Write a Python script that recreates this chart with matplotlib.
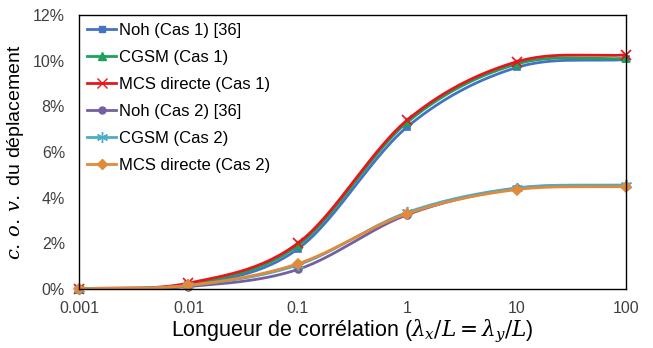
import numpy as np
import matplotlib
matplotlib.use('Agg')
import matplotlib.pyplot as plt
from matplotlib.ticker import FuncFormatter

plt.rcParams['font.family'] = ['Liberation Sans', 'DejaVu Sans']
plt.rcParams['mathtext.fontset'] = 'dejavuserif'

# data
lengths = [0.001, 0.01, 0.1, 1, 10, 100]
noh_1 = [0.0, 0.15, 1.75, 7.1, 9.7, 10.05]
cgsm_1 = [0.0, 0.2, 1.9, 7.3, 9.85, 10.1]
mcs_1 = [0.0, 0.25, 2.0, 7.4, 9.95, 10.25]
noh_2 = [0.0, 0.1, 0.85, 3.25, 4.4, 4.5]
cgsm_2 = [0.0, 0.15, 1.05, 3.35, 4.42, 4.55]
mcs_2 = [0.0, 0.15, 1.1, 3.3, 4.35, 4.48]

series = [
    ('Noh (Cas 1) [36]', noh_1, '#4472c4', 's', 5),
    ('CGSM (Cas 1)', cgsm_1, '#1ba35a', '^', 6),
    ('MCS directe (Cas 1)', mcs_1, '#e8151b', 'x', 7),
    ('Noh (Cas 2) [36]', noh_2, '#7460a0', 'o', 5),
    ('CGSM (Cas 2)', cgsm_2, '#4bacc6', (6, 2, 0), 8),
    ('MCS directe (Cas 2)', mcs_2, '#e08a3a', 'D', 5),
]


def smooth(xs, ys, n=30):
    # Catmull-Rom through the points in log-x space (like Excel smoothed lines)
    lx = np.log10(xs)
    y = np.array(ys, dtype=float)
    px = np.concatenate([[2 * lx[0] - lx[1]], lx, [2 * lx[-1] - lx[-2]]])
    py = np.concatenate([[2 * y[0] - y[1]], y, [2 * y[-1] - y[-2]]])
    ox, oy = [], []
    for i in range(1, len(px) - 2):
        t = np.linspace(0, 1, n)
        for p, out in ((px, ox), (py, oy)):
            p0, p1, p2, p3 = p[i - 1], p[i], p[i + 1], p[i + 2]
            out.extend(0.5 * (2 * p1 + (-p0 + p2) * t
                              + (2 * p0 - 5 * p1 + 4 * p2 - p3) * t ** 2
                              + (-p0 + 3 * p1 - 3 * p2 + p3) * t ** 3))
    return 10 ** np.array(ox), np.array(oy)


fig, ax = plt.subplots(figsize=(6.53, 3.48), dpi=100)

for label, vals, color, mk, ms in series:
    sx, sy = smooth(lengths, vals)
    ax.plot(sx, sy, color=color, lw=2)
    ax.plot(lengths, vals, color=color, marker=mk, ms=ms, lw=0, mew=1.2,
            clip_on=False)
    ax.plot([], [], color=color, marker=mk, ms=ms, lw=2, label=label)

ax.set_xscale('log')
ax.set_xlim(0.001, 100)
ax.set_ylim(0, 12)
ax.set_xticks(lengths)
ax.set_xticklabels(['0.001', '0.01', '0.1', '1', '10', '100'])
ax.minorticks_off()
ax.set_yticks(np.arange(0, 13, 2))
ax.yaxis.set_major_formatter(FuncFormatter(lambda v, p: f'{v:.0f}%'))
ax.tick_params(length=0, labelsize=11.5, colors='#404040')
ax.tick_params(axis='y', pad=10)
ax.tick_params(axis='x', pad=9)
for s in ax.spines.values():
    s.set_color('black')
    s.set_linewidth(1)

ax.set_xlabel(r'Longueur de corrélation ($\lambda_x/L = \lambda_y/L$)', fontsize=15.5, labelpad=1)
ax.set_ylabel(r'$c.\,o.\,v.$ du déplacement', fontsize=14, labelpad=5)

ax.legend(loc='upper left', frameon=False, fontsize=12, handlelength=1.7,
          handletextpad=0.2, labelspacing=0.72, borderaxespad=0.2,
          borderpad=0.3)

plt.subplots_adjust(left=0.121, right=0.959, top=0.957, bottom=0.170)
plt.savefig('out.png', dpi=100)
